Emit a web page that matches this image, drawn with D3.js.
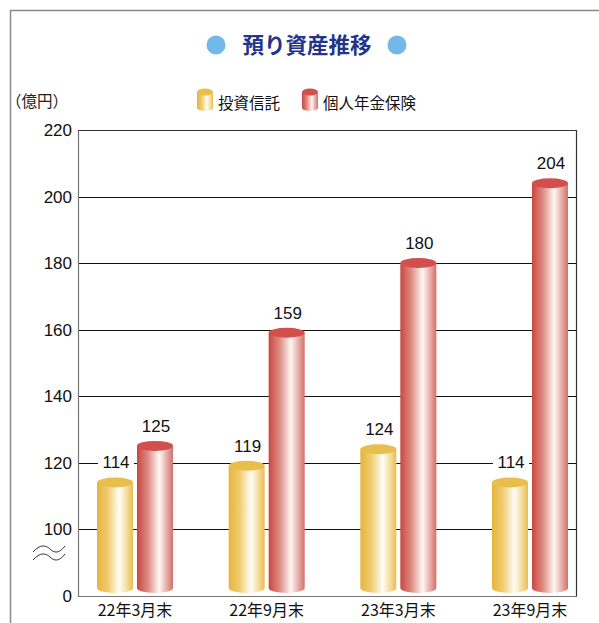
<!DOCTYPE html>
<html>
<head>
<meta charset="utf-8">
<script src="https://cdn.jsdelivr.net/npm/d3@7"></script>
<style>
  body { margin: 0; background: #fff; }
  svg text { font-family: "Liberation Sans", Arial, "Noto Sans CJK JP", sans-serif; }
  .jp { font-family: "Noto Sans CJK JP", sans-serif; }
</style>
</head>
<body>
<div id="chart"></div>
<script>
// data
var periods = ["22年3月末", "22年9月末", "23年3月末", "23年9月末"];
var seriesNames = ["投資信託", "個人年金保険"];
var investTrust = [114, 119, 124, 114];
var pensionIns = [125, 159, 180, 204];
var yTicks = [0, 100, 120, 140, 160, 180, 200, 220];

var width = 599, height = 623;
var plot = { left: 78, right: 576, top: 130, bottom: 596 };

var svg = d3.select("#chart").append("svg")
  .attr("width", width)
  .attr("height", height);

// gradients for the cylinders
var defs = svg.append("defs");
function cylGrad(id, stops) {
  var g = defs.append("linearGradient").attr("id", id)
    .attr("x1", "0%").attr("x2", "100%").attr("y1", "0%").attr("y2", "0%");
  stops.forEach(function (s) {
    g.append("stop").attr("offset", s[0]).attr("stop-color", s[1]);
  });
}
cylGrad("gY", [["0%", "#e6b43c"], ["30%", "#f0cc70"], ["62%", "#fffdf6"], ["80%", "#f6e2a8"], ["100%", "#e8bd52"]]);
cylGrad("gR", [["0%", "#c84840"], ["30%", "#de8a82"], ["62%", "#fff7f5"], ["80%", "#eab6b0"], ["100%", "#d4706a"]]);
var topColor = ["#e8bf4c", "#d24f4c"];
var grads = ["url(#gY)", "url(#gR)"];

// outer frame
svg.append("path")
  .attr("d", "M10.5," + height + " V10.5 H" + width)
  .attr("fill", "none").attr("stroke", "#8a8a8a").attr("stroke-width", 1.5);

// title
svg.append("text").attr("class", "jp")
  .attr("x", 307).attr("y", 53)
  .attr("text-anchor", "middle")
  .style("font-size", "21.5px").style("font-weight", "bold")
  .style("fill", "#23348a")
  .text("預り資産推移");
svg.append("circle").attr("cx", 216).attr("cy", 45).attr("r", 9.5).attr("fill", "#72b9ea");
svg.append("circle").attr("cx", 397).attr("cy", 45).attr("r", 9.5).attr("fill", "#72b9ea");

// unit
svg.append("text").attr("class", "jp")
  .attr("x", 6).attr("y", 107)
  .style("font-size", "15.5px").style("fill", "#222")
  .text("（億円）");

// scales: broken axis 0 -> 100
var y = d3.scaleLinear()
  .domain([0, 100, 220])
  .range([plot.bottom, 529, plot.top]);
var x = d3.scalePoint()
  .domain(periods)
  .range([135, 530]);
var barW = 36, gap = 4;

// grid lines
svg.append("g").selectAll("line")
  .data(yTicks.filter(function (d) { return d > 0; }))
  .join("line")
  .attr("x1", plot.left).attr("x2", plot.right)
  .attr("y1", function (d) { return Math.round(y(d)) + 0.5; })
  .attr("y2", function (d) { return Math.round(y(d)) + 0.5; })
  .attr("stroke", "#111").attr("stroke-width", 1);

// plot box
svg.append("path")
  .attr("d", "M" + (plot.left + 0.5) + "," + (plot.top + 0.5) + " V" + (plot.bottom + 0.5) + " H" + (plot.right + 0.5))
  .attr("fill", "none").attr("stroke", "#777").attr("stroke-width", 1.2);
svg.append("path")
  .attr("d", "M" + (plot.left + 0.5) + "," + (plot.top + 0.5) + " H" + (plot.right + 0.5) + " V" + (plot.bottom + 0.5))
  .attr("fill", "none").attr("stroke", "#333").attr("stroke-width", 1.2);

// y tick labels
svg.append("g").selectAll("text")
  .data(yTicks)
  .join("text")
  .attr("x", 72).attr("y", function (d) { return y(d) + 6; })
  .attr("text-anchor", "end")
  .style("font-size", "17px").style("fill", "#111")
  .text(function (d) { return d; });

// axis break mark
svg.append("g").selectAll("path")
  .data([0, 8])
  .join("path")
  .attr("d", function (o) {
    var yy = 549 + o;
    return "M33," + (yy + 3) + " C40," + (yy - 5) + " 46," + (yy - 4) + " 50," + yy + " S59," + (yy + 5) + " 65," + (yy - 3);
  })
  .attr("fill", "none").attr("stroke", "#333").attr("stroke-width", 1);

// cylinders
var series = [investTrust, pensionIns];
var ry = 5;
var baseY = plot.bottom - 8;
series.forEach(function (vals, si) {
  var g = svg.append("g");
  var items = periods.map(function (p, i) { return { p: p, v: vals[i] }; });
  var bx = function (d) { return x(d.p) + (si === 0 ? -gap / 2 - barW : gap / 2); };
  g.selectAll("path.body")
    .data(items)
    .join("path")
    .attr("class", "body")
    .attr("d", function (d) {
      var x0 = bx(d), top = y(d.v);
      return "M" + x0 + "," + top + " V" + baseY +
        " A" + (barW / 2) + "," + ry + " 0 0 0 " + (x0 + barW) + "," + baseY +
        " V" + top + " Z";
    })
    .attr("fill", grads[si]);
  g.selectAll("ellipse")
    .data(items)
    .join("ellipse")
    .attr("cx", function (d) { return bx(d) + barW / 2; })
    .attr("cy", function (d) { return y(d.v); })
    .attr("rx", barW / 2).attr("ry", ry)
    .attr("fill", topColor[si]);
  var lab = g.selectAll("g.lab")
    .data(items)
    .join("g").attr("class", "lab");
  lab.append("rect")
    .attr("x", function (d) { return bx(d) + barW / 2 - 17; })
    .attr("y", function (d) { return y(d.v) - 29; })
    .attr("width", 36).attr("height", 17)
    .attr("fill", "#fff");
  lab.append("text")
    .attr("x", function (d) { return bx(d) + barW / 2 + 1; })
    .attr("y", function (d) { return y(d.v) - 14; })
    .attr("text-anchor", "middle")
    .style("font-size", "17px").style("fill", "#111")
    .text(function (d) { return d.v; });
});

// x labels
svg.append("g").selectAll("text")
  .data(periods)
  .join("text").attr("class", "jp")
  .attr("x", function (d) { return x(d); })
  .attr("y", 616)
  .attr("text-anchor", "middle")
  .style("font-size", "16px").style("fill", "#111")
  .text(function (d) { return d; });

// legend
var legX = [197, 302];
seriesNames.forEach(function (name, i) {
  var lx = legX[i], w = 16, t = 92, b = 108;
  svg.append("path")
    .attr("d", "M" + lx + "," + t + " V" + b + " A" + (w / 2) + ",3 0 0 0 " + (lx + w) + "," + b + " V" + t + " Z")
    .attr("fill", grads[i]);
  svg.append("ellipse")
    .attr("cx", lx + w / 2).attr("cy", t).attr("rx", w / 2).attr("ry", 3.5)
    .attr("fill", topColor[i]);
  svg.append("text").attr("class", "jp")
    .attr("x", lx + 21).attr("y", 109)
    .style("font-size", "15.5px").style("fill", "#111")
    .text(name);
});
</script>
</body>
</html>
